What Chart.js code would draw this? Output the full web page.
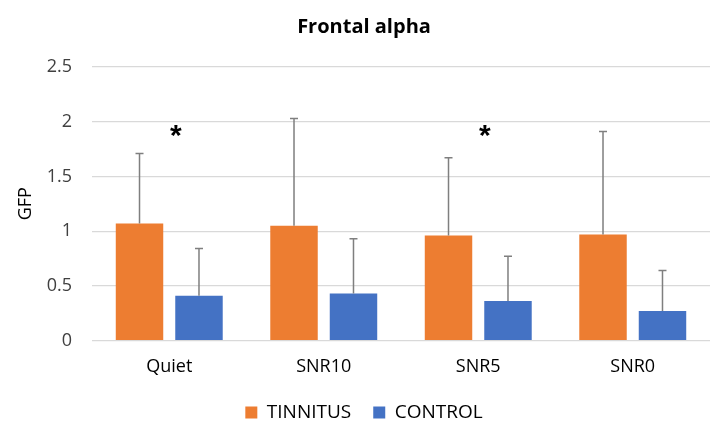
<!DOCTYPE html>
<html>
<head>
<meta charset="utf-8">
<script src="https://cdn.jsdelivr.net/npm/chart.js@4"></script>
<style>
html,body{margin:0;padding:0;background:#fff;}
#wrap{width:728px;height:432px;}
</style>
</head>
<body>
<div id="wrap"><canvas id="c" width="728" height="432"></canvas></div>
<script>
const categories = ["Quiet", "SNR10", "SNR5", "SNR0"];
const tinnitus = [1.07, 1.05, 0.96, 0.97];
const tinnitusErr = [0.64, 0.98, 0.71, 0.94];
const control = [0.41, 0.43, 0.36, 0.27];
const controlErr = [0.43, 0.50, 0.41, 0.37];
const significant = [true, false, true, false];
const starLevel = 1.92;
const yTicks = [0, 0.5, 1, 1.5, 2, 2.5];

const errorBars = {
  id: 'errorBars',
  afterDatasetsDraw(chart) {
    const ctx = chart.ctx;
    const y = chart.scales.y;
    chart.data.datasets.forEach((ds, i) => {
      const meta = chart.getDatasetMeta(i);
      meta.data.forEach((el, j) => {
        const top = y.getPixelForValue(ds.data[j] + ds.err[j]);
        ctx.save();
        ctx.strokeStyle = '#7f7f7f';
        ctx.lineWidth = 1.5;
        ctx.beginPath();
        ctx.moveTo(el.x, el.y);
        ctx.lineTo(el.x, top);
        ctx.moveTo(el.x - 4, top);
        ctx.lineTo(el.x + 4, top);
        ctx.stroke();
        ctx.restore();
      });
    });
    const xs = chart.scales.x;
    ctx.save();
    ctx.fillStyle = '#000';
    ctx.font = 'bold 30px "Liberation Sans", sans-serif';
    ctx.textAlign = 'center';
    ctx.textBaseline = 'middle';
    significant.forEach((s, j) => {
      if (!s) return;
      const px = xs.getPixelForValue(j) + 6.5;
      const py = y.getPixelForValue(starLevel) + 6;
      ctx.fillText('*', px, py);
    });
    ctx.restore();
  }
};

new Chart(document.getElementById('c'), {
  type: 'bar',
  data: {
    labels: categories,
    datasets: [
      { label: 'TINNITUS', data: tinnitus, err: tinnitusErr, backgroundColor: '#ED7D31' },
      { label: 'CONTROL', data: control, err: controlErr, backgroundColor: '#4472C4' }
    ]
  },
  options: {
    responsive: false,
    animation: false,
    layout: { padding: { left: 0, right: 0, top: 0, bottom: 0 } },
    datasets: { bar: { categoryPercentage: 0.77, barPercentage: 0.798 } },
    plugins: {
      title: {
        display: true,
        text: 'Frontal alpha',
        color: '#000',
        font: { family: 'Open Sans', size: 20, weight: 'bold' },
        padding: { top: 15, bottom: 28 }
      },
      legend: {
        position: 'bottom',
        labels: {
          color: '#000',
          font: { family: 'Open Sans', size: 19 },
          boxWidth: 12, boxHeight: 12, padding: 22
        }
      },
      tooltip: { enabled: false }
    },
    scales: {
      x: {
        afterFit(s) { s.height = 40.5; },
        grid: { display: false, drawTicks: false },
        border: { display: false },
        ticks: { color: '#000', font: { family: 'Open Sans', size: 18 }, padding: 16 }
      },
      y: {
        min: 0, max: 2.5,
        afterFit(s) { s.width = 92; },
        afterBuildTicks(s) { s.ticks = yTicks.map(v => ({ value: v })); },
        ticks: {
          color: '#404040', font: { family: 'Open Sans', size: 18 }, padding: 20,
          callback: v => String(+v.toFixed(1))
        },
        grid: { color: '#d9d9d9', lineWidth: 1.2, drawTicks: false },
        border: { display: false },
        title: { display: true, text: 'GFP', color: '#000', font: { family: 'Open Sans', size: 18 }, padding: { top: 15, bottom: 0 } }
      },
      yRight: {
        position: 'right',
        afterFit(s) { s.width = 18; },
        grid: { display: false, drawTicks: false },
        border: { display: false },
        ticks: { display: false }
      }
    }
  },
  plugins: [errorBars]
});
</script>
</body>
</html>
